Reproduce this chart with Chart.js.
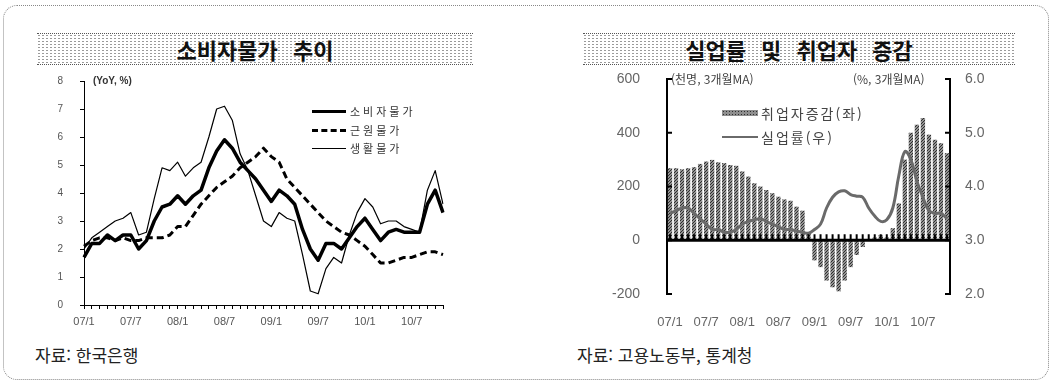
<!DOCTYPE html>
<html lang="ko">
<head>
<meta charset="utf-8">
<script src="https://cdn.jsdelivr.net/npm/chart.js@4"></script>
<style>
  html, body { margin: 0; padding: 0; background: #fff; }
  body { width: 1059px; height: 384px; position: relative; overflow: hidden;
         font-family: 'Noto Sans CJK KR', 'Liberation Sans', sans-serif; color: #222; }
  .frame { position: absolute; left: 3px; top: 5px; width: 1044px; height: 373px;
           border: 1px dotted #888; border-radius: 14px; }
  .ttl { position: absolute; text-align: center; font-weight: bold; font-size: 22px;
         line-height: 30px; color: #111; word-spacing: 9px;
         background-color: #fff;
         background-image: radial-gradient(circle, #9a9a9a 0.7px, transparent 1.1px);
         background-size: 4px 3px;
         border-top: 1px dotted #555; border-bottom: 1px dotted #555; }
  .box { position: absolute; }
  .txt { position: absolute; white-space: nowrap; }
  .src { font-size: 17px; line-height: 20px; color: #222; }
  .lg-cpi { font-size: 11px; line-height: 14px; color: #333; letter-spacing: 3px; }
  .lg-emp { font-size: 14px; line-height: 16px; color: #444; letter-spacing: 2px; }
  .unit { font-size: 12px; line-height: 14px; color: #444; }
</style>
</head>
<body>
<div class="frame"></div>

<div class="ttl" style="left:37px;top:33px;width:436px;height:30px;">소비자물가 추이</div>
<div class="ttl" style="left:583px;top:33px;width:432px;height:30px;">실업률 및 취업자 증감</div>

<div class="box" style="left:0;top:50px;width:470px;height:290px;"><canvas id="cpiChart"></canvas></div>
<div class="box" style="left:530px;top:40px;width:500px;height:300px;"><canvas id="jobChart"></canvas></div>

<!-- left chart labels -->
<div class="txt" style="left:93px;top:75px;font:bold 10px 'Liberation Sans',sans-serif;color:#333;">(YoY, %)</div>
<div class="box" style="left:312px;top:110px;width:34px;border-top:3.5px solid #000;"></div>
<div class="txt lg-cpi" style="left:350px;top:104px;">소비자물가</div>
<div class="box" style="left:312px;top:129px;width:34px;border-top:3px dashed #000;"></div>
<div class="txt lg-cpi" style="left:350px;top:123px;">근원물가</div>
<div class="box" style="left:312px;top:148px;width:34px;border-top:1.2px solid #000;"></div>
<div class="txt lg-cpi" style="left:350px;top:141px;">생활물가</div>

<!-- right chart labels -->
<div class="txt unit" style="left:671px;top:72px;">(천명, 3개월MA)</div>
<div class="txt unit" style="left:853px;top:72px;">(%, 3개월MA)</div>
<div class="box" style="left:722px;top:110px;width:36px;height:6px;background-color:#8f8f8f;
     background-image:radial-gradient(circle,#2e2e2e 0.6px,transparent 0.9px);background-size:3px 3px;"></div>
<div class="txt lg-emp" style="left:761px;top:105px;">취업자증감(좌)</div>
<div class="box" style="left:722px;top:136px;width:36px;border-top:2.5px solid #6a6a6a;"></div>
<div class="txt lg-emp" style="left:761px;top:129px;">실업률(우)</div>

<div class="txt src" style="left:35px;top:345px;">자료: 한국은행</div>
<div class="txt src" style="left:577px;top:345px;">자료: 고용노동부, 통계청</div>

<script>
// monthly categories, Jan 2007 - Nov 2010
const months = [
  '07/1','07/2','07/3','07/4','07/5','07/6','07/7','07/8','07/9','07/10','07/11','07/12',
  '08/1','08/2','08/3','08/4','08/5','08/6','08/7','08/8','08/9','08/10','08/11','08/12',
  '09/1','09/2','09/3','09/4','09/5','09/6','09/7','09/8','09/9','09/10','09/11','09/12',
  '10/1','10/2','10/3','10/4','10/5','10/6','10/7','10/8','10/9','10/10','10/11'
];
const tickLabels = ['07/1','07/7','08/1','08/7','09/1','09/7','10/1','10/7'];

// 소비자물가 / 근원물가 / 생활물가 (YoY, %)
const cpi = [
  1.7, 2.2, 2.2, 2.5, 2.3, 2.5, 2.5, 2.0, 2.3, 3.0, 3.5, 3.6,
  3.9, 3.6, 3.9, 4.1, 4.9, 5.5, 5.9, 5.6, 5.1, 4.8, 4.5, 4.1,
  3.7, 4.1, 3.9, 3.6, 2.7, 2.0, 1.6, 2.2, 2.2, 2.0, 2.4, 2.8,
  3.1, 2.7, 2.3, 2.6, 2.7, 2.6, 2.6, 2.6, 3.6, 4.1, 3.3
];
const coreCpi = [
  2.1, 2.3, 2.4, 2.4, 2.3, 2.4, 2.3, 2.3, 2.4, 2.4, 2.4, 2.5,
  2.8, 2.8, 3.2, 3.6, 3.9, 4.2, 4.4, 4.6, 4.9, 5.1, 5.3, 5.6,
  5.3, 5.1, 4.5, 4.2, 3.9, 3.6, 3.3, 3.0, 2.8, 2.6, 2.5, 2.3,
  2.1, 1.8, 1.5, 1.5, 1.6, 1.7, 1.7, 1.8, 1.9, 1.9, 1.8
];
const livingCpi = [
  2.0, 2.4, 2.6, 2.8, 3.0, 3.1, 3.3, 2.5, 2.6, 3.8, 4.9, 4.8,
  5.1, 4.6, 4.9, 5.1, 6.0, 7.0, 7.1, 6.6, 5.4, 4.8, 3.9, 3.0,
  2.8, 3.3, 3.1, 3.0, 1.8, 0.5, 0.4, 1.3, 1.7, 1.5, 2.5, 3.3,
  3.8, 3.5, 2.9, 3.0, 3.0, 2.8, 2.7, 2.6, 4.1, 4.8, 3.6
];

// 취업자증감 (천명, 3개월MA) / 실업률 (%, 3개월MA)
const empChange = [
  268, 268, 264, 268, 272, 284, 293, 299, 290, 287, 280, 277,
  256, 237, 212, 200, 187, 175, 162, 152, 147, 125, 110, 30,
  -75, -100, -150, -175, -190, -150, -100, -55, -25, 5, 10, 20,
  10, 45, 137, 300, 400, 430, 455, 393, 374, 361, 324
];
const unempRate = [
  3.5, 3.55, 3.6, 3.6, 3.5, 3.4, 3.3, 3.2, 3.2, 3.15, 3.15, 3.2,
  3.3, 3.35, 3.38, 3.4, 3.35, 3.3, 3.25, 3.2, 3.2, 3.17, 3.15, 3.13,
  3.2, 3.3, 3.6, 3.8, 3.9, 3.92, 3.85, 3.82, 3.8, 3.6, 3.45, 3.35,
  3.38, 3.6, 4.2, 4.65, 4.5, 4.1, 3.8, 3.55, 3.5, 3.5, 3.4
];

Chart.defaults.font.family = "'Liberation Sans', 'Noto Sans CJK KR', sans-serif";
Chart.defaults.animation = false;

const everySixth = (v, i) => (i % 6 === 0 ? tickLabels[i / 6] : '');

// nudge the top padding until the plot area starts where we want it
function pinTop(chart, want) {
  const p = chart.options.layout.padding;
  let gain = 1;
  for (let k = 0; k < 5; k++) {
    const t0 = chart.chartArea.top;
    const d = want - t0;
    if (Math.abs(d) < 0.3) break;
    const step = d / gain;
    p.top += step;
    chart.update();
    const moved = chart.chartArea.top - t0;
    if (Math.abs(moved) > 0.01) gain = moved / step;
  }
}

const cpiChart = new Chart(document.getElementById('cpiChart'), {
  type: 'line',
  data: {
    labels: months,
    datasets: [
      { label: '소비자물가', data: cpi, borderColor: '#000', borderWidth: 3.5 },
      { label: '근원물가', data: coreCpi, borderColor: '#000', borderWidth: 3, borderDash: [7, 4] },
      { label: '생활물가', data: livingCpi, borderColor: '#000', borderWidth: 1.2 }
    ]
  },
  options: {
    responsive: true,
    maintainAspectRatio: false,
    layout: { padding: { left: 0, right: 27, top: 31, bottom: 0 } },
    elements: { point: { radius: 0 }, line: { tension: 0, borderJoinStyle: 'round' } },
    plugins: { legend: { display: false }, tooltip: { enabled: false } },
    scales: {
      x: {
        offset: false,
        grid: { drawOnChartArea: false, tickLength: 4, color: '#000' },
        border: { color: '#000', width: 1 },
        ticks: { autoSkip: false, maxRotation: 0, padding: 6, color: '#555',
                 font: { size: 11 }, callback: everySixth },
        afterFit(scale) { scale.height = 35; }
      },
      y: {
        min: 0, max: 8,
        grid: { drawOnChartArea: false, tickLength: 4, color: '#000' },
        border: { color: '#000', width: 1 },
        ticks: { stepSize: 1, padding: 17, color: '#555', font: { size: 10 } },
        afterFit(scale) { scale.width = 84; }
      }
    }
  }
});
pinTop(cpiChart, 31);

// bar texture
const jobCanvas = document.getElementById('jobChart');
const tile = document.createElement('canvas');
tile.width = 3; tile.height = 3;
const tg = tile.getContext('2d');
tg.fillStyle = '#939393'; tg.fillRect(0, 0, 3, 3);
tg.fillStyle = '#2e2e2e';
tg.fillRect(0, 0, 1, 1); tg.fillRect(2, 1, 1, 1); tg.fillRect(1, 2, 1, 1);
const barFill = jobCanvas.getContext('2d').createPattern(tile, 'repeat');

// bracket-style axes, inward ticks and the toothed zero line
const bracketAxes = {
  id: 'bracketAxes',
  afterDatasetsDraw(chart) {
    const { ctx, chartArea: a, scales } = chart;
    const yl = scales.y, yr = scales.y1, x = scales.x;
    ctx.save();
    ctx.strokeStyle = '#000';
    ctx.lineWidth = 2;
    yl.ticks.forEach(t => {
      const py = yl.getPixelForValue(t.value);
      ctx.beginPath(); ctx.moveTo(a.left, py); ctx.lineTo(a.left + 5, py); ctx.stroke();
    });
    yr.ticks.forEach(t => {
      const py = yr.getPixelForValue(t.value);
      ctx.beginPath(); ctx.moveTo(a.right, py); ctx.lineTo(a.right - 5, py); ctx.stroke();
    });
    const y0 = yl.getPixelForValue(0);
    ctx.lineWidth = 3;
    ctx.beginPath(); ctx.moveTo(a.left, y0); ctx.lineTo(a.right, y0); ctx.stroke();
    ctx.lineWidth = 2;
    months.forEach((m, i) => {
      const px = x.getPixelForValue(i);
      ctx.beginPath(); ctx.moveTo(px, y0); ctx.lineTo(px, y0 - 6); ctx.stroke();
    });
    ctx.restore();
  }
};

const jobChart = new Chart(jobCanvas, {
  data: {
    labels: months,
    datasets: [
      { type: 'line', label: '실업률(우)', data: unempRate, yAxisID: 'y1',
        borderColor: '#6a6a6a', borderWidth: 3, pointRadius: 0, tension: 0.4, order: 0 },
      { type: 'bar', label: '취업자증감(좌)', data: empChange, yAxisID: 'y',
        backgroundColor: barFill, barPercentage: 0.72, categoryPercentage: 1, order: 1 }
    ]
  },
  options: {
    responsive: true,
    maintainAspectRatio: false,
    layout: { padding: { left: 0, right: 0, top: 39, bottom: 0 } },
    plugins: { legend: { display: false }, tooltip: { enabled: false } },
    scales: {
      x: {
        grid: { display: false },
        border: { display: false },
        ticks: { autoSkip: false, maxRotation: 0, padding: 13, color: '#666',
                 font: { size: 13 }, callback: everySixth },
        afterFit(scale) { scale.height = 46; }
      },
      y: {
        position: 'left', min: -200, max: 600,
        grid: { drawOnChartArea: false, drawTicks: false },
        border: { color: '#000', width: 2 },
        ticks: { stepSize: 200, padding: 27, color: '#666', font: { size: 14 } },
        afterFit(scale) { scale.width = 137; }
      },
      y1: {
        position: 'right', min: 2, max: 6,
        grid: { drawOnChartArea: false, drawTicks: false },
        border: { color: '#000', width: 2 },
        ticks: { stepSize: 1, padding: 15, color: '#666', font: { size: 14 },
                 callback: v => v.toFixed(1) },
        afterFit(scale) { scale.width = 80; }
      }
    }
  },
  plugins: [bracketAxes]
});
pinTop(jobChart, 39);
</script>
</body>
</html>
